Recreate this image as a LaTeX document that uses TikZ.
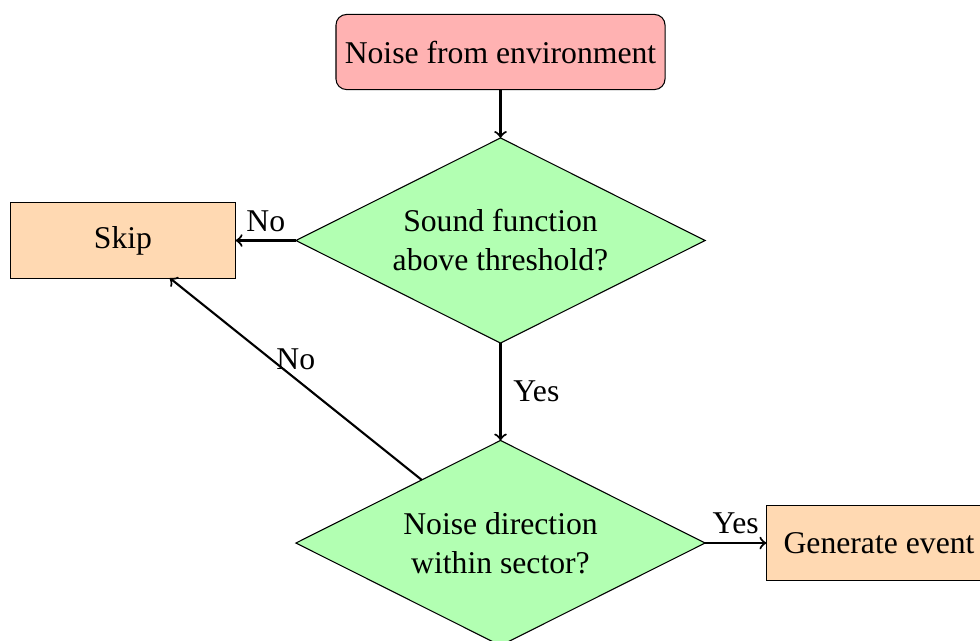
\documentclass[tikz,border=0pt]{standalone}
\usepackage{fontspec}
\setmainfont{Liberation Serif}
\usetikzlibrary{shapes.geometric}
\begin{document}
% coordinates are given on a 980 x 640 grid, y growing downwards
\begin{tikzpicture}[x=0.37879pt,y=-0.37879pt,
  every node/.style={inner sep=3.33pt, outer sep=0pt},
  font=\fontsize{12}{14.8}\selectfont,
  startbox/.style={rectangle, rounded corners=4pt, draw, thin,
    fill=red!30, minimum width=3cm, minimum height=1cm, align=center},
  procbox/.style={rectangle, draw, thin, fill=orange!30,
    minimum width=3cm, minimum height=1cm, align=center},
  decision/.style={diamond, draw, thin, fill=green!30,
    minimum width=155pt, minimum height=77.7pt, aspect=2, inner sep=0pt, align=center},
  flow/.style={->, thick}
]
\useasboundingbox (0,0) rectangle (980,640);

% nodes
\node[startbox] (noise) at (500.5,52) {Noise from environment};
\node[decision] (thr) at (500.5,240.5) {Sound function\\above threshold?};
\node[procbox]  (skip) at (123,240.5) {Skip};
\node[decision] (dir) at (500.5,543) {Noise direction\\within sector?};
\node[procbox]  (gen) at (879,543) {Generate event};

% connectors
\draw[flow] (noise) -- (thr);
\draw[flow] (thr) -- node[above] {No} (skip);
\draw[flow] (thr) -- node[right, xshift=1.5pt] {Yes} (dir);
\draw[flow] (dir) -- node[above] {Yes} (gen);
\draw[flow] (dir) -- node[above] {No} (skip);
\end{tikzpicture}
\end{document}
